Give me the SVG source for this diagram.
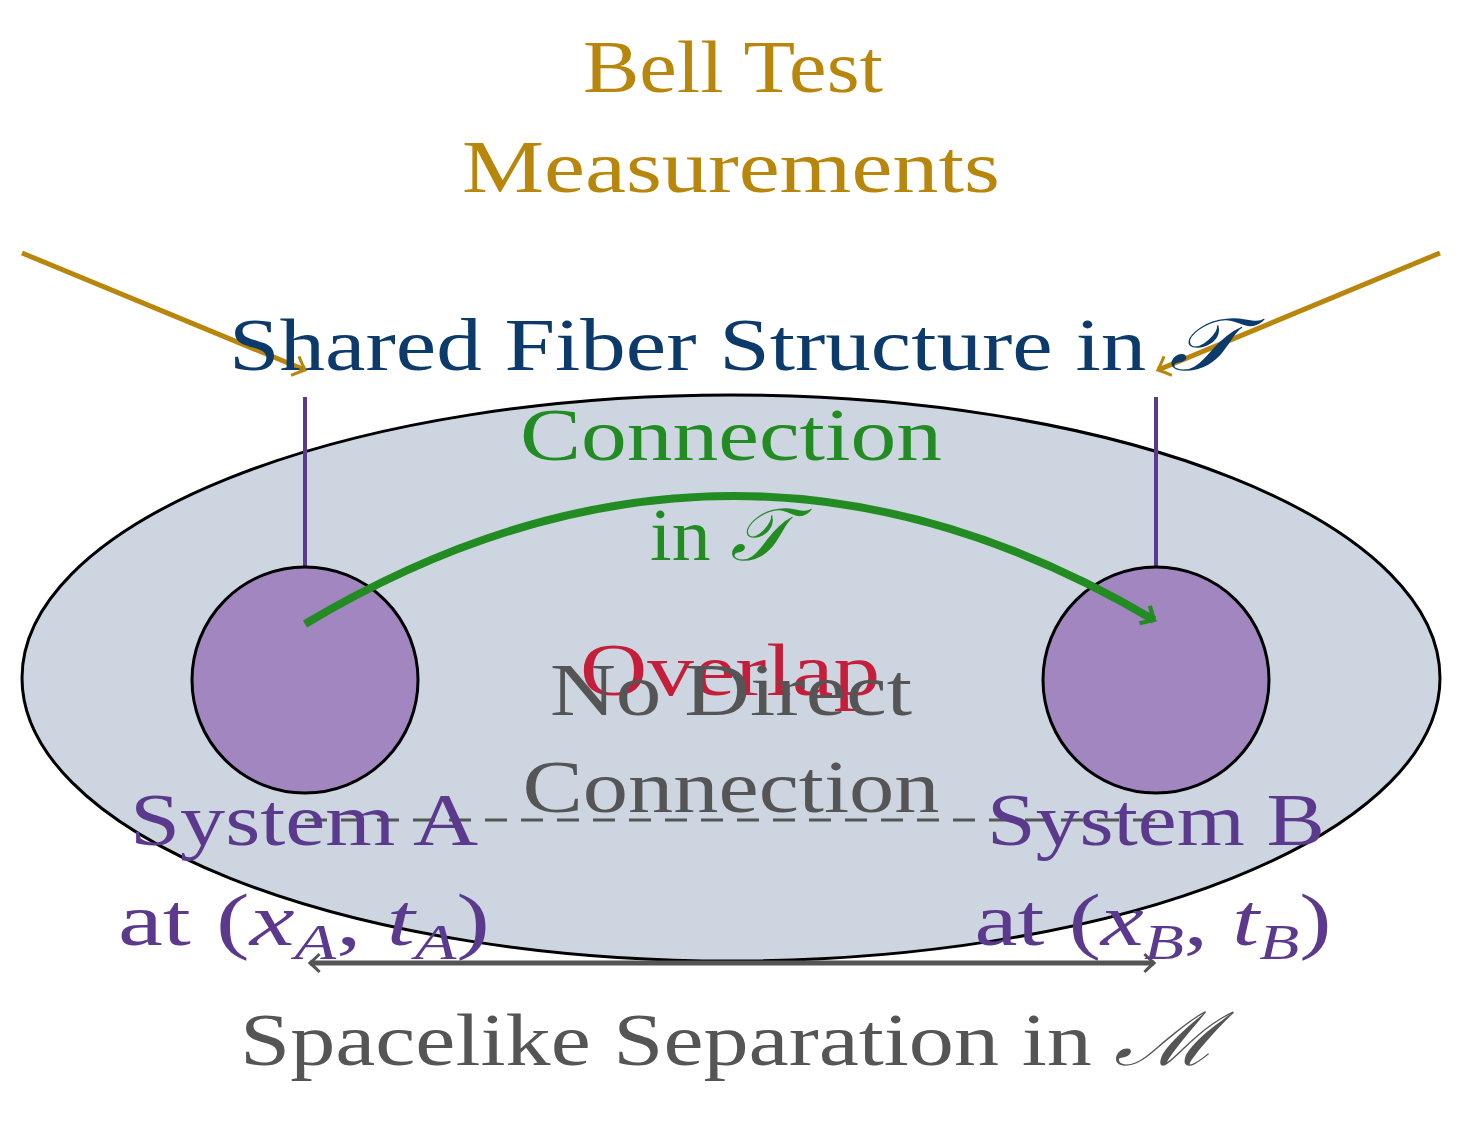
<svg xmlns="http://www.w3.org/2000/svg" width="1473" height="1124" viewBox="0 0 1473 1124">
<style>
text{font-family:"Liberation Serif","DejaVu Serif",serif;font-size:74px;text-anchor:middle}
.gold{fill:#b8860b}.blue{fill:#0b3a6b}.green{fill:#228b22}.red{fill:#c41e3a}.gray{fill:#555}.purple{fill:#5b3a8e}
</style>
<defs>
<marker id="ag" viewBox="0 0 10 10" refX="8" refY="5" markerWidth="6" markerHeight="6" orient="auto" markerUnits="userSpaceOnUse" style="overflow:visible"><path d="M-10,-12 Q0,-2 8,5 Q0,12 -10,22" fill="none" stroke="#b8860b" stroke-width="5"/></marker>
<marker id="agr" viewBox="0 0 10 10" refX="8" refY="5" markerWidth="6" markerHeight="6" orient="auto" markerUnits="userSpaceOnUse" style="overflow:visible"><path d="M-10,-12 Q0,-2 8,5 Q0,12 -10,22" fill="none" stroke="#228b22" stroke-width="7"/></marker>
<marker id="ay" viewBox="0 0 10 10" refX="8" refY="5" markerWidth="6" markerHeight="6" orient="auto-start-reverse" markerUnits="userSpaceOnUse" style="overflow:visible"><path d="M-8,-10 Q0,-2 8,5 Q0,12 -8,20" fill="none" stroke="#555" stroke-width="5"/></marker>
</defs>
<g id="fiber"><ellipse cx="731" cy="678" rx="709" ry="283" fill="#cdd6e0" stroke="#000" stroke-width="3"/></g>
<g id="connectors" fill="none">
<line x1="305" y1="397" x2="305" y2="567" stroke="#5b3a8e" stroke-width="4"/>
<line x1="1156" y1="397" x2="1156" y2="567" stroke="#5b3a8e" stroke-width="4"/>
<line x1="22" y1="253" x2="305" y2="370" stroke="#b8860b" stroke-width="5" marker-end="url(#ag)"/>
<line x1="1440" y1="253" x2="1158" y2="370" stroke="#b8860b" stroke-width="5" marker-end="url(#ag)"/>
<line x1="305" y1="820" x2="1156" y2="820" stroke="#555" stroke-width="3" stroke-dasharray="22,14"/>
<line x1="310" y1="963" x2="1154" y2="963" stroke="#555" stroke-width="5" marker-start="url(#ay)" marker-end="url(#ay)"/>
</g>
<g id="sysA"><circle cx="305" cy="680" r="113" fill="#a286c0" stroke="#000" stroke-width="3"/></g>
<g id="sysB"><circle cx="1156" cy="680" r="113" fill="#a286c0" stroke="#000" stroke-width="3"/></g>
<g id="arc"><path d="M305,624 Q731,370 1154,620" fill="none" stroke="#228b22" stroke-width="8" marker-end="url(#agr)"/></g>
<g id="labels">
<text class="gold" x="733" y="92" textLength="300" lengthAdjust="spacingAndGlyphs">Bell Test</text>
<text class="gold" x="731" y="192" textLength="538" lengthAdjust="spacingAndGlyphs">Measurements</text>
<text class="blue" x="734" y="370" textLength="1010" lengthAdjust="spacingAndGlyphs">Shared Fiber Structure in <tspan font-style="italic">𝒯</tspan></text>
<text class="green" x="731" y="460" textLength="422" lengthAdjust="spacingAndGlyphs">Connection</text>
<text class="green" x="720" y="560" textLength="140" lengthAdjust="spacingAndGlyphs">in <tspan font-style="italic">𝒯</tspan></text>
<text class="red" x="730" y="695" textLength="300" lengthAdjust="spacingAndGlyphs">Overlap</text>
<text class="gray" x="731" y="715" textLength="362" lengthAdjust="spacingAndGlyphs">No Direct</text>
<text class="gray" x="731" y="812" textLength="417" lengthAdjust="spacingAndGlyphs">Connection</text>
<text class="purple" x="304" y="845" textLength="348" lengthAdjust="spacingAndGlyphs">System A</text>
<text class="purple" x="304" y="945" textLength="372" lengthAdjust="spacingAndGlyphs">at (<tspan font-style="italic">x</tspan><tspan font-style="italic" font-size="50" dy="14">A</tspan><tspan dy="-14">, </tspan><tspan font-style="italic">t</tspan><tspan font-style="italic" font-size="50" dy="14">A</tspan><tspan dy="-14">)</tspan></text>
<text class="purple" x="1156" y="845" textLength="338" lengthAdjust="spacingAndGlyphs">System B</text>
<text class="purple" x="1153" y="945" textLength="357" lengthAdjust="spacingAndGlyphs">at (<tspan font-style="italic">x</tspan><tspan font-style="italic" font-size="50" dy="14">B</tspan><tspan dy="-14">, </tspan><tspan font-style="italic">t</tspan><tspan font-style="italic" font-size="50" dy="14">B</tspan><tspan dy="-14">)</tspan></text>
<text class="gray" x="729" y="1065" textLength="978" lengthAdjust="spacingAndGlyphs">Spacelike Separation in <tspan font-style="italic">ℳ</tspan></text>
</g>
</svg>
